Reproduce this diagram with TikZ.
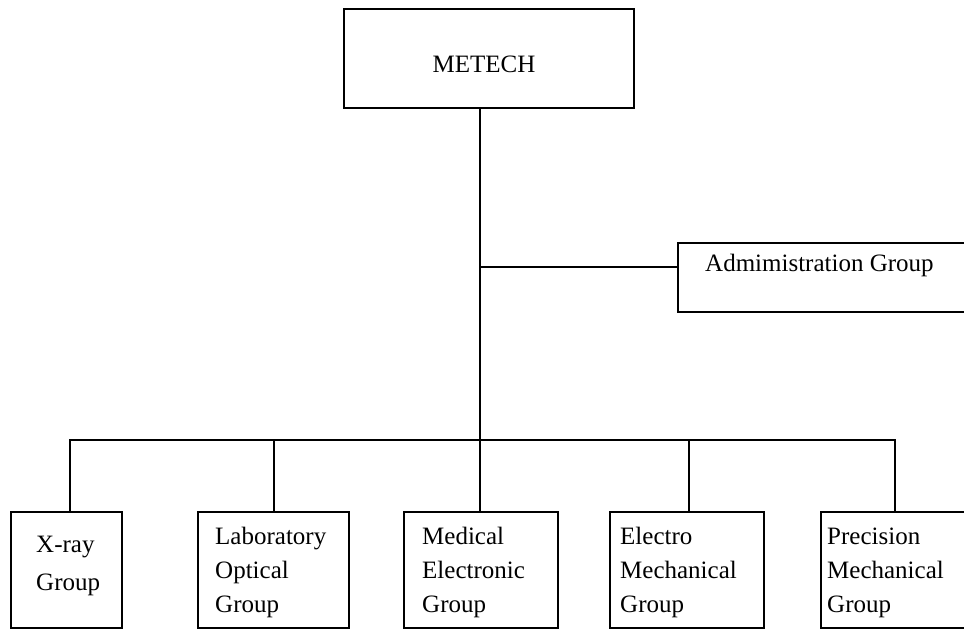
\documentclass[tikz,border=0pt]{standalone}
\usepackage{fontspec}
\setmainfont{Liberation Serif}
\begin{document}
\begin{tikzpicture}[x=1pt,y=-1pt,
  box/.style={draw=black,line width=1.8pt,rectangle,inner sep=0pt,anchor=north west},
  txt/.style={inner sep=0pt,align=left,font=\fontsize{25}{34}\selectfont},
  wire/.style={draw=black,line width=1.8pt}]
\useasboundingbox[fill=white] (0,0) rectangle (964,629);
% boxes
\node[box,minimum width=290pt,minimum height=99pt] (metech) at (343,8) {};
\node[box,minimum width=310pt,minimum height=69pt] (admin) at (677,242) {};
\node[box,minimum width=111pt,minimum height=116pt] (xray) at (10,511) {};
\node[box,minimum width=151pt,minimum height=116pt] (lab) at (197,511) {};
\node[box,minimum width=154pt,minimum height=116pt] (med) at (403,511) {};
\node[box,minimum width=154pt,minimum height=116pt] (elec) at (609,511) {};
\node[box,minimum width=170pt,minimum height=116pt] (prec) at (820,511) {};
% texts (base anchor = baseline of last line)
\node[txt,anchor=base] (metecht) at (484,72) {METECH};
\node[txt,anchor=base west] (admint) at (705,271) {Admimistration Group};
\node[txt,anchor=base west] (xrayt) at (36,590) {X-ray\\[4pt]Group};
\node[txt,anchor=base west] (labt) at (215,612) {Laboratory\\Optical\\Group};
\node[txt,anchor=base west] (medt) at (422,612) {Medical\\Electronic\\Group};
\node[txt,anchor=base west] (elect) at (620,612) {Electro\\Mechanical\\Group};
\node[txt,anchor=base west] (prect) at (827,612) {Precision\\Mechanical\\Group};
% connectors
\coordinate (bus) at (480,440);
\coordinate (branch) at (480,267);
\draw[wire] (metech.south -| bus) -- (med.north -| bus);
\draw[wire] (branch) -- (admin.west |- branch);
\draw[wire] (xray.north -| 70,0) -- (70,440) -- (895,440) -- (prec.north -| 895,0);
\draw[wire] (274,440) -- (lab.north -| 274,0);
\draw[wire] (689,440) -- (elec.north -| 689,0);
\end{tikzpicture}
\end{document}
